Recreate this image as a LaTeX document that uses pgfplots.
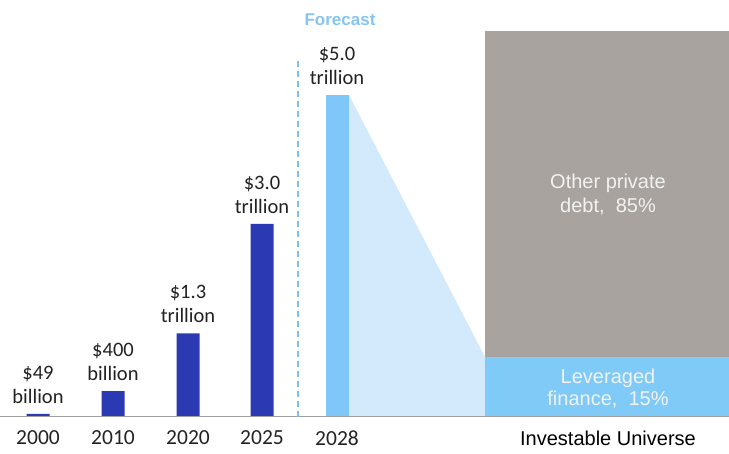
\documentclass[border=0pt]{standalone}
\usepackage{pgfplots}
\pgfplotsset{compat=1.18}
\usepackage{fontspec}
\setmainfont{Carlito}
\newfontfamily\arialf{Liberation Sans}
\definecolor{darkbar}{HTML}{2B3AB2}
\definecolor{lightbar}{HTML}{7FC7F9}
\definecolor{tribl}{HTML}{D3E9FC}
\definecolor{boxgray}{HTML}{A8A39F}
\definecolor{levblue}{HTML}{80CAF8}
\definecolor{basegray}{HTML}{A0A0A0}
\definecolor{dashcol}{HTML}{7FBFF0}
\definecolor{fcblue}{HTML}{86C5EF}
\definecolor{labeltext}{HTML}{222222}
\definecolor{boxtext}{HTML}{F2F2F2}
\begin{document}
\begin{tikzpicture}
\tikzset{lab/.style={font=\fontsize{20.5}{24}\selectfont, align=center, inner sep=0pt, text=labeltext, anchor=south, yshift=10pt}}
\begin{axis}[name=ax, width=729pt, height=453pt, scale only axis,
  xmin=0, xmax=729, ymin=-0.559, ymax=6.475,
  axis line style={draw=none}, tick style={draw=none}, major tick length=0pt,
  ytick=\empty,
  xtick={38,113,188,262,337},
  xticklabels={2000,2010,2020,2025,2028},
  xticklabel style={anchor=center, yshift=15pt, inner sep=0pt, font=\fontsize{21.5}{21.5}\selectfont, text=labeltext},
  clip=false, no markers]
% light blue funnel
\addplot[fill=tribl, draw=none] coordinates {(349,5.0) (485,0.932) (485,0) (349,0)} -- cycle;
% historical bars
\addplot[ybar, bar width=23, fill=darkbar, draw=none] coordinates {(38,0.049) (113,0.4) (188,1.3) (262,3.0)};
% forecast bar
\addplot[ybar, bar width=23, fill=lightbar, draw=none] coordinates {(337,5.0)};
% investable universe boxes
\addplot[fill=boxgray, draw=none] coordinates {(485,0.932) (729,0.932) (729,5.994) (485,5.994)} -- cycle;
\addplot[fill=levblue, draw=none] coordinates {(485,0) (729,0) (729,0.932) (485,0.932)} -- cycle;
% baseline
\addplot[basegray, line width=1pt] coordinates {(0,0) (729,0)};
% forecast divider
\addplot[dashcol, dash pattern=on 6pt off 4pt, line width=1.2pt] coordinates {(298,0) (298,5.54)};
% labels
\node[lab] at (axis cs:38,0.049) {\$49\\billion};
\node[lab] at (axis cs:113,0.4) {\$400\\billion};
\node[lab] at (axis cs:188,1.3) {\$1.3\\trillion};
\node[lab] at (axis cs:262,3.0) {\$3.0\\trillion};
\node[lab] at (axis cs:337,5.0) {\$5.0\\trillion};
\node[font=\arialf\bfseries\fontsize{17}{17}\selectfont, text=fcblue] at (axis cs:340,6.165) {Forecast};
\node[font=\arialf\fontsize{20}{24}\selectfont, text=boxtext, align=center] at (axis cs:608,3.447) {Other private\\debt,\ \ 85\%};
\node[font=\arialf\fontsize{20}{22}\selectfont, text=boxtext, align=center] at (axis cs:608,0.435) {Leveraged\\finance,\ \ 15\%};
\node[font=\arialf\fontsize{20}{20}\selectfont, text=black] at (axis cs:608,-0.326) {Investable Universe};
\end{axis}
\pgfresetboundingbox
\useasboundingbox (ax.south west) rectangle (ax.north east);
\end{tikzpicture}
\end{document}
